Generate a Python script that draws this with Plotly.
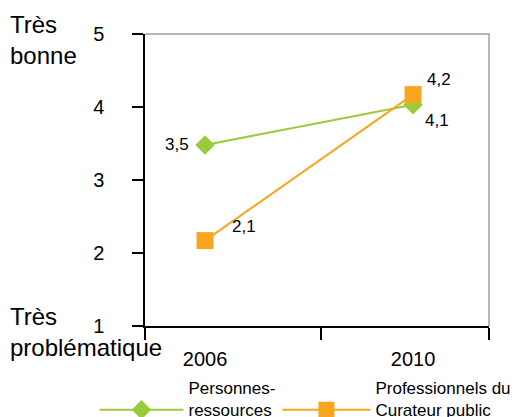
import plotly.graph_objects as go

years = ["2006", "2010"]
x_pos = [0, 1]
personnes = [3.48, 4.03]
professionnels = [2.17, 4.17]
personnes_text = ["3,5", "4,1"]
professionnels_text = ["2,1", "4,2"]
y_ticks = [1, 2, 3, 4, 5]
name_personnes = "Personnes-<br>ressources"
name_professionnels = "Professionnels du<br>Curateur public"

GREEN = "#9BCB3A"
ORANGE = "#F8A51F"
FONT = "Liberation Sans"

fig = go.Figure()
fig.add_trace(go.Scatter(
    x=x_pos, y=personnes, mode="lines+markers",
    name=name_personnes,
    line=dict(color=GREEN, width=2),
    marker=dict(symbol="diamond", size=15, color=GREEN),
    legend="legend", showlegend=True, cliponaxis=False,
))
fig.add_trace(go.Scatter(
    x=x_pos, y=professionnels, mode="lines+markers",
    name=name_professionnels,
    line=dict(color=ORANGE, width=2),
    marker=dict(symbol="square", size=17, color=ORANGE),
    legend="legend2", showlegend=True, cliponaxis=False,
))

# value labels, anchored on the data points
label_style = [
    (personnes, personnes_text, [("right", -14, 0), ("left", 10, -16)]),
    (professionnels, professionnels_text, [("left", 25, 14), ("left", 12, 15)]),
]
annotations = []
for values, texts, offsets in label_style:
    for xv, yv, t, (anchor, dx, dy) in zip(x_pos, values, texts, offsets):
        annotations.append(dict(
            x=xv, y=yv, xref="x", yref="y", text=t, showarrow=False,
            xanchor=anchor, yanchor="middle", xshift=dx, yshift=dy,
            font=dict(size=17, family=FONT, color="black")))

annotations += [
    dict(text="Très<br>bonne", xref="paper", yref="paper",
         x=-0.398, y=1.085, xanchor="left", yanchor="top",
         align="left", showarrow=False, font=dict(size=24, family=FONT)),
    dict(text="Très<br>problématique", xref="paper", yref="paper",
         x=-0.398, y=0.085, xanchor="left", yanchor="top",
         align="left", showarrow=False, font=dict(size=24, family=FONT)),
]

fig.update_layout(
    width=516, height=417,
    margin=dict(l=145, r=27, t=34, b=91, autoexpand=False),
    paper_bgcolor="white", plot_bgcolor="white",
    showlegend=True,
    font=dict(family=FONT, color="black"),
    legend=dict(x=-0.1468, y=-0.151, xanchor="left", yanchor="top",
                itemwidth=84, valign="bottom",
                font=dict(size=17, family=FONT), bgcolor="rgba(0,0,0,0)"),
    legend2=dict(x=0.385, y=-0.151, xanchor="left", yanchor="top",
                 itemwidth=88, valign="bottom",
                 font=dict(size=17, family=FONT), bgcolor="rgba(0,0,0,0)"),
    xaxis=dict(
        range=[-0.2885, 1.365], tickvals=x_pos, ticktext=years,
        showgrid=False, zeroline=False, showline=True,
        linecolor="black", linewidth=1.5,
        ticks="", ticklabelstandoff=14,
        tickfont=dict(size=20, family=FONT),
        minor=dict(tickvals=[-0.2885, 0.558, 1.365], ticks="outside",
                   ticklen=12, tickwidth=1.5, tickcolor="black", showgrid=False),
    ),
    yaxis=dict(
        range=[1, 5], tickvals=y_ticks,
        showgrid=False, zeroline=False, showline=True,
        linecolor="black", linewidth=1.5,
        ticks="outside", ticklen=11, tickwidth=1.5, tickcolor="black",
        ticklabelstandoff=24,
        tickfont=dict(size=20, family=FONT),
    ),
    shapes=[dict(type="path", xref="paper", yref="paper",
                 path="M 0 1 L 1 1 L 1 0",
                 line=dict(color="#A0A0A0", width=1.5))],
    annotations=annotations,
)

fig.write_html("out.html", config={"displayModeBar": False},
               post_script="document.body.style.margin='0';")
